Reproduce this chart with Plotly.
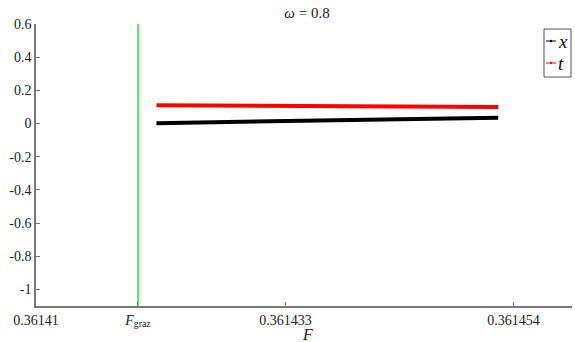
import plotly.graph_objects as go

# Data
F_graz = 0.3614194
F_x = [0.3614211, 0.3614290, 0.3614370, 0.3614450, 0.3614526]
x_vals = [0.002, 0.012, 0.020, 0.028, 0.035]
t_vals = [0.110, 0.107, 0.105, 0.103, 0.100]
xtick_vals = [0.36141, F_graz, 0.361433, 0.361454]
xtick_text = ["0.36141", "<i>F</i><sub>graz</sub>", "0.361433", "0.361454"]
ytick_vals = [-1, -0.8, -0.6, -0.4, -0.2, 0, 0.2, 0.4, 0.6]
ytick_text = ["-1", "-0.8", "-0.6", "-0.4", "-0.2", "0", "0.2", "0.4", "0.6"]
y_range = [-1.1, 0.6]
x_range = [0.36141, 0.3614594]
legend_names = ["<i>x</i>", "<i>t</i>"]
legend_colors = ["black", "red"]

FF = "Liberation Serif"

# plot area in pixels (for legend placement)
L, R, T, B = 36, 572, 24, 306
def px(xp):
    return (xp - L) / (R - L)
def py(yp):
    return (B - yp) / (B - T)

fig = go.Figure()
fig.add_trace(go.Scatter(x=[F_graz, F_graz], y=y_range, mode="lines",
                         line=dict(color="#22ee22", width=1.5), showlegend=False))
fig.add_trace(go.Scatter(x=F_x, y=x_vals, mode="lines", name="x",
                         line=dict(color="black", width=4), showlegend=False))
fig.add_trace(go.Scatter(x=F_x, y=t_vals, mode="lines", name="t",
                         line=dict(color="red", width=4), showlegend=False))

shapes = [dict(type="rect", xref="paper", yref="paper",
               x0=px(544), x1=px(571), y0=py(77), y1=py(29),
               line=dict(color="#555", width=1), fillcolor="white", layer="above")]
annotations = []
for i, (nm, col) in enumerate(zip(legend_names, legend_colors)):
    yy = 41 + 22 * i
    shapes.append(dict(type="line", xref="paper", yref="paper",
                       x0=px(546), x1=px(556), y0=py(yy), y1=py(yy),
                       line=dict(color=col, width=1), layer="above"))
    shapes.append(dict(type="circle", xref="paper", yref="paper",
                       x0=px(549.8), x1=px(552.2), y0=py(yy + 1.2), y1=py(yy - 1.2),
                       line=dict(color=col, width=0), fillcolor=col, layer="above"))
    annotations.append(dict(text=nm, xref="paper", yref="paper", x=px(556), y=py(yy),
                            xanchor="left", yanchor="middle", showarrow=False,
                            font=dict(size=19, family=FF, color="#111")))
# x-axis title
annotations.append(dict(text="<i>F</i>", xref="paper", yref="paper", x=px(307), y=py(334),
                        xanchor="center", yanchor="middle", showarrow=False,
                        font=dict(size=16, family=FF, color="#222")))

fig.update_layout(
    template="none",
    width=575, height=342,
    margin=dict(l=L, r=575 - R, t=T, b=342 - B, pad=0),
    paper_bgcolor="white", plot_bgcolor="white",
    font=dict(family=FF, size=14, color="#222"),
    title=dict(text="<i>ω</i> = 0.8", x=307 / 575, xanchor="center", y=1 - 13 / 342,
               yanchor="middle", font=dict(size=15, family=FF, color="#222")),
    showlegend=False,
    shapes=shapes,
    annotations=annotations,
    xaxis=dict(range=x_range, tickmode="array", tickvals=xtick_vals, ticktext=xtick_text,
               showgrid=False, zeroline=False, showline=True, linecolor="#777", linewidth=1.5,
               ticks="inside", ticklen=4, tickcolor="#777",
               tickfont=dict(size=14, family=FF, color="#222")),
    yaxis=dict(range=y_range, tickmode="array", tickvals=ytick_vals, ticktext=ytick_text,
               showgrid=False, zeroline=False, showline=True, linecolor="#777", linewidth=1.5,
               ticks="inside", ticklen=4, tickcolor="#777",
               tickfont=dict(size=14, family=FF, color="#222")),
)

fig.write_html("out.html")
